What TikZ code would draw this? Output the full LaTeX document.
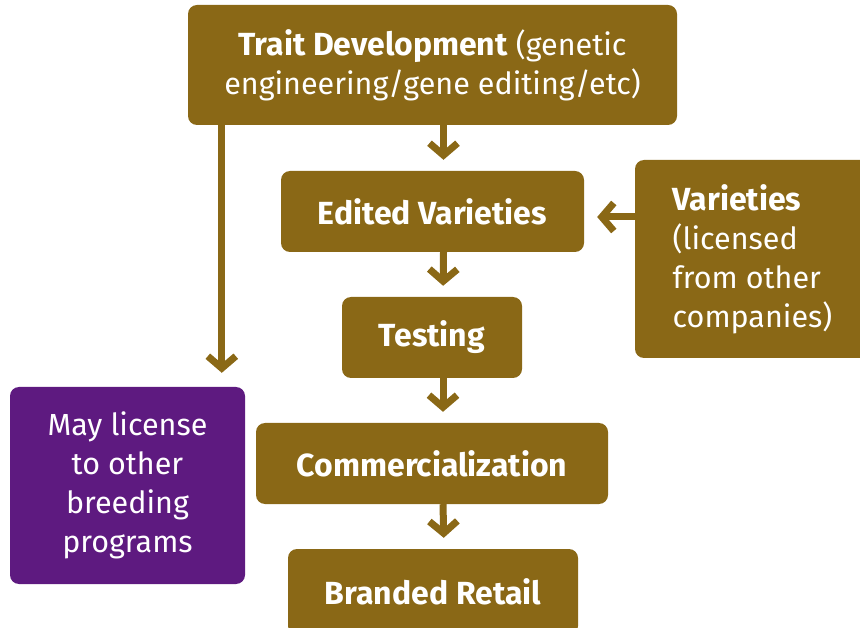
\documentclass[tikz,border=0pt]{standalone}
\usepackage{fontspec}
\setmainfont{Fira Sans}
\usetikzlibrary{arrows.meta}
\definecolor{gold}{HTML}{8A6816}
\definecolor{purp}{HTML}{5E1A80}
\newcommand\bt[1]{{\fontsize{32}{39}\selectfont\bfseries #1}}
\begin{document}
\begin{tikzpicture}[x=1pt,y=-1pt,
  box/.style={fill=gold, rounded corners=9pt, text=white, align=center, inner sep=0pt,
    font=\fontsize{30.5}{39}\selectfont},
  pbox/.style={box, fill=purp},
  arr/.style={draw=gold, line width=7pt, line join=miter, -{Straight Barb[length=12pt,width=28pt]}}]
\useasboundingbox (0,0) rectangle (860,628);
\node[box, minimum width=489pt, minimum height=120pt] (trait) at (432.5,65)
  {\bt{Trait Development} (genetic\\engineering/gene editing/etc)};
\node[box, minimum width=303pt, minimum height=81pt] (edited) at (432.5,211.5) {\bt{Edited Varieties}};
\node[box, minimum width=180pt, minimum height=81pt] (testing) at (432,337.5) {\bt{Testing}};
\node[box, minimum width=352pt, minimum height=81pt] (comm) at (432,463.5) {\bt{Commercialization}};
\node[box, minimum width=290pt, minimum height=86pt] (retail) at (433,592) {\bt{Branded Retail}};
\node[box, align=left, minimum width=235pt, minimum height=198pt] (var) at (752.5,259)
  {\bt{Varieties}\\(licensed\\from other\\companies)};
\node[pbox, minimum width=235pt, minimum height=197pt] (lic) at (127.5,485.5)
  {May license\\to other\\breeding\\programs};
\draw[arr, shorten >=11pt] ([xshift=11pt]trait.south) -- ([xshift=11pt]edited.north);
\draw[arr, shorten >=11pt] ([xshift=11pt]edited.south) -- ([xshift=11pt]testing.north);
\draw[arr, shorten >=11pt] ([xshift=11pt]testing.south) -- ([xshift=11pt]comm.north);
\draw[arr, shorten >=11pt] ([xshift=11pt]comm.south) -- ([xshift=11pt]retail.north);
\draw[arr, shorten >=14pt] ([xshift=34pt]trait.south west) -- ([xshift=34pt]trait.south west |- lic.north);
\draw[arr, shorten >=13pt] ([yshift=42pt]var.west) -- ([yshift=42pt]var.west -| edited.east);
\end{tikzpicture}
\end{document}
